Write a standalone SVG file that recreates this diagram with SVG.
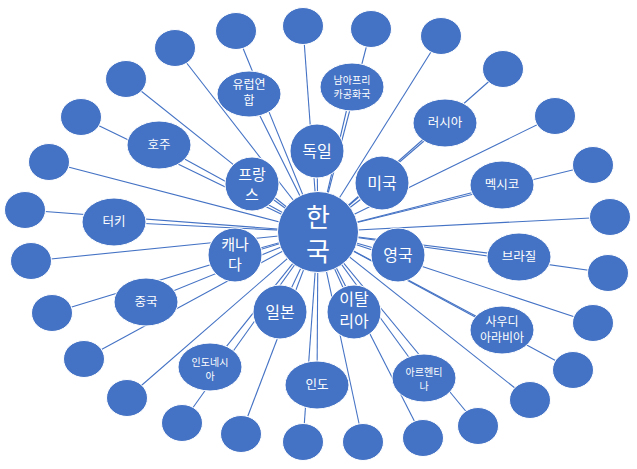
<svg xmlns="http://www.w3.org/2000/svg" width="637" height="469" viewBox="0 0 637 469">
<style>
.n{fill:#4472C4;stroke:#ffffff;stroke-width:1}
.c line{stroke:#4472C4;stroke-width:1.1}
text{fill:#ffffff;font-family:"Malgun Gothic","Noto Sans CJK KR",sans-serif;text-anchor:middle}
.t0{font-size:26px}
.t1{font-size:16px}
.t1s{font-size:15px}
.t2{font-size:12.5px}
.t2s{font-size:12px}
.t3{font-size:10px}
</style>
<rect width="637" height="469" fill="#ffffff"/>
<g id="connectors" class="c">
<line x1="318" y1="232" x2="236" y2="31"/>
<line x1="318" y1="232" x2="303" y2="26"/>
<line x1="318" y1="232" x2="175" y2="48"/>
<line x1="318" y1="232" x2="126" y2="79"/>
<line x1="318" y1="232" x2="81" y2="117"/>
<line x1="318" y1="232" x2="49" y2="162"/>
<line x1="318" y1="232" x2="25" y2="210"/>
<line x1="318" y1="232" x2="31" y2="261"/>
<line x1="318" y1="232" x2="52" y2="313"/>
<line x1="318" y1="232" x2="84" y2="359"/>
<line x1="318" y1="232" x2="127" y2="398"/>
<line x1="318" y1="232" x2="182" y2="423"/>
<line x1="318" y1="232" x2="241" y2="434"/>
<line x1="318" y1="232" x2="303" y2="442"/>
<line x1="318" y1="232" x2="363" y2="442"/>
<line x1="318" y1="232" x2="423" y2="438"/>
<line x1="318" y1="232" x2="478" y2="426"/>
<line x1="318" y1="232" x2="530" y2="400"/>
<line x1="318" y1="232" x2="573" y2="370"/>
<line x1="318" y1="232" x2="593" y2="323"/>
<line x1="318" y1="232" x2="608" y2="273"/>
<line x1="318" y1="232" x2="610" y2="217"/>
<line x1="318" y1="232" x2="593" y2="165"/>
<line x1="318" y1="232" x2="555" y2="116"/>
<line x1="318" y1="232" x2="503" y2="69"/>
<line x1="318" y1="232" x2="441" y2="36"/>
<line x1="318" y1="232" x2="371" y2="29"/>
<line x1="318" y1="232" x2="249" y2="94"/>
<line x1="318" y1="232" x2="352" y2="87"/>
<line x1="318" y1="232" x2="445" y2="123"/>
<line x1="318" y1="232" x2="502" y2="185"/>
<line x1="318" y1="232" x2="519" y2="257"/>
<line x1="318" y1="232" x2="502" y2="330"/>
<line x1="318" y1="232" x2="424" y2="378"/>
<line x1="318" y1="232" x2="317" y2="385"/>
<line x1="318" y1="232" x2="210" y2="367"/>
<line x1="318" y1="232" x2="146" y2="302"/>
<line x1="318" y1="232" x2="114" y2="222"/>
<line x1="318" y1="232" x2="159" y2="145"/>
<line x1="318" y1="232" x2="317" y2="151"/>
<line x1="318" y1="232" x2="382" y2="183"/>
<line x1="318" y1="232" x2="398" y2="255"/>
<line x1="318" y1="232" x2="354" y2="312"/>
<line x1="318" y1="232" x2="280" y2="312"/>
<line x1="318" y1="232" x2="235" y2="255"/>
<line x1="318" y1="232" x2="252" y2="184"/>
</g>
<g id="outer">
<ellipse id="o1" class="n" cx="236" cy="31" rx="20.5" ry="18.5"/>
<ellipse id="o2" class="n" cx="303" cy="26" rx="20.5" ry="18.5"/>
<ellipse id="o3" class="n" cx="175" cy="48" rx="20.5" ry="18.5"/>
<ellipse id="o4" class="n" cx="126" cy="79" rx="20.5" ry="18.5"/>
<ellipse id="o5" class="n" cx="81" cy="117" rx="20.5" ry="18.5"/>
<ellipse id="o6" class="n" cx="49" cy="162" rx="20.5" ry="18.5"/>
<ellipse id="o7" class="n" cx="25" cy="210" rx="20.5" ry="18.5"/>
<ellipse id="o8" class="n" cx="31" cy="261" rx="20.5" ry="18.5"/>
<ellipse id="o9" class="n" cx="52" cy="313" rx="20.5" ry="18.5"/>
<ellipse id="o10" class="n" cx="84" cy="359" rx="20.5" ry="18.5"/>
<ellipse id="o11" class="n" cx="127" cy="398" rx="20.5" ry="18.5"/>
<ellipse id="o12" class="n" cx="182" cy="423" rx="20.5" ry="18.5"/>
<ellipse id="o13" class="n" cx="241" cy="434" rx="20.5" ry="18.5"/>
<ellipse id="o14" class="n" cx="303" cy="442" rx="20.5" ry="18.5"/>
<ellipse id="o15" class="n" cx="363" cy="442" rx="20.5" ry="18.5"/>
<ellipse id="o16" class="n" cx="423" cy="438" rx="20.5" ry="18.5"/>
<ellipse id="o17" class="n" cx="478" cy="426" rx="20.5" ry="18.5"/>
<ellipse id="o18" class="n" cx="530" cy="400" rx="20.5" ry="18.5"/>
<ellipse id="o19" class="n" cx="573" cy="370" rx="20.5" ry="18.5"/>
<ellipse id="o20" class="n" cx="593" cy="323" rx="20.5" ry="18.5"/>
<ellipse id="o21" class="n" cx="608" cy="273" rx="20.5" ry="18.5"/>
<ellipse id="o22" class="n" cx="610" cy="217" rx="20.5" ry="18.5"/>
<ellipse id="o23" class="n" cx="593" cy="165" rx="20.5" ry="18.5"/>
<ellipse id="o24" class="n" cx="555" cy="116" rx="20.5" ry="18.5"/>
<ellipse id="o25" class="n" cx="503" cy="69" rx="20.5" ry="18.5"/>
<ellipse id="o26" class="n" cx="441" cy="36" rx="20.5" ry="18.5"/>
<ellipse id="o27" class="n" cx="371" cy="29" rx="20.5" ry="18.5"/>
</g>
<g id="eu"><ellipse class="n" cx="249" cy="94" rx="32" ry="23"/><text class="t2s"><tspan x="249" y="88.5">유럽연</tspan><tspan x="249" y="104.5">합</tspan></text></g>
<g id="southafrica"><ellipse class="n" cx="352" cy="87" rx="32" ry="24"/><text class="t3"><tspan x="352" y="84">남아프리</tspan><tspan x="352" y="97.5">카공화국</tspan></text></g>
<g id="russia"><ellipse class="n" cx="445" cy="123" rx="32" ry="24"/><text class="t2" x="445" y="127">러시아</text></g>
<g id="mexico"><ellipse class="n" cx="502" cy="185" rx="32" ry="24"/><text class="t2" x="502" y="189">멕시코</text></g>
<g id="brazil"><ellipse class="n" cx="519" cy="257" rx="32" ry="24"/><text class="t2" x="519" y="261">브라질</text></g>
<g id="saudi"><ellipse class="n" cx="502" cy="330" rx="32" ry="24"/><text class="t2s"><tspan x="502" y="326">사우디</tspan><tspan x="502" y="342">아라비아</tspan></text></g>
<g id="argentina"><ellipse class="n" cx="424" cy="378" rx="32" ry="24"/><text class="t3"><tspan x="424" y="376">아르헨티</tspan><tspan x="424" y="389.5">나</tspan></text></g>
<g id="india"><ellipse class="n" cx="317" cy="385" rx="32" ry="24"/><text class="t2" x="317" y="389">인도</text></g>
<g id="indonesia"><ellipse class="n" cx="210" cy="367" rx="32" ry="24"/><text class="t3"><tspan x="210" y="366">인도네시</tspan><tspan x="210" y="379.5">아</tspan></text></g>
<g id="china"><ellipse class="n" cx="146" cy="302" rx="32" ry="24"/><text class="t2" x="146" y="306">중국</text></g>
<g id="turkey"><ellipse class="n" cx="114" cy="222" rx="32" ry="24"/><text class="t2" x="114" y="226">터키</text></g>
<g id="australia"><ellipse class="n" cx="159" cy="145" rx="32" ry="24"/><text class="t2" x="159" y="149">호주</text></g>
<g id="germany"><circle class="n" cx="317" cy="151" r="27"/><text class="t1" x="317" y="157">독일</text></g>
<g id="usa"><circle class="n" cx="382" cy="183" r="27"/><text class="t1" x="382" y="189">미국</text></g>
<g id="uk"><circle class="n" cx="398" cy="255" r="27"/><text class="t1" x="398" y="261">영국</text></g>
<g id="italy"><circle class="n" cx="354" cy="312" r="27"/><text class="t1"><tspan x="354" y="305">이탈</tspan><tspan x="354" y="327">리아</tspan></text></g>
<g id="japan"><circle class="n" cx="280" cy="312" r="27"/><text class="t1" x="280" y="318">일본</text></g>
<g id="canada"><circle class="n" cx="235" cy="255" r="27"/><text class="t1s"><tspan x="235" y="250">캐나</tspan><tspan x="235" y="269.5">다</tspan></text></g>
<g id="france"><circle class="n" cx="252" cy="184" r="27"/><text class="t1s"><tspan x="252" y="180">프랑</tspan><tspan x="252" y="199.5">스</tspan></text></g>
<g id="korea"><circle class="n" cx="318" cy="232" r="40.5"/><text class="t0"><tspan x="318" y="227">한</tspan><tspan x="318" y="261">국</tspan></text></g>
</svg>
